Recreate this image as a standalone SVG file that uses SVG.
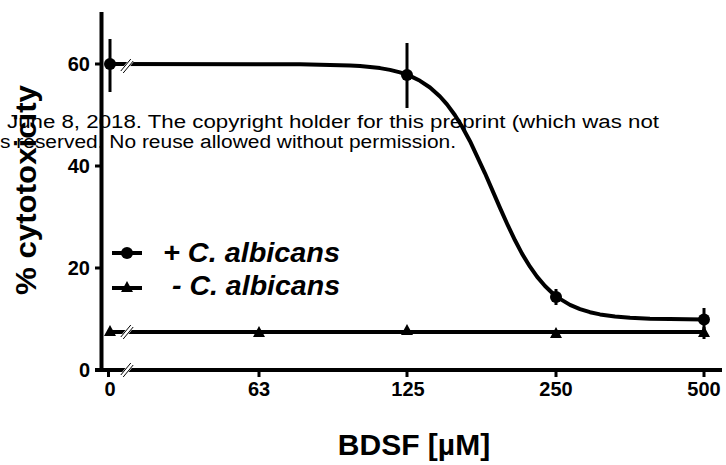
<svg xmlns="http://www.w3.org/2000/svg" width="726" height="465" viewBox="0 0 726 465">
<style>
  .wm { font-family: "Liberation Sans", Arial, sans-serif; font-size: 18px; fill: #000; }
  .tk { font-family: "Liberation Sans", Arial, sans-serif; font-size: 20px; font-weight: bold; fill: #000; }
  .ttl { font-family: "Liberation Sans", Arial, sans-serif; font-size: 30px; font-weight: bold; fill: #000; }
  .leg { font-family: "Liberation Sans", Arial, sans-serif; font-size: 27px; font-weight: bold; font-style: italic; fill: #000; }
  .ax { stroke: #000; stroke-width: 4; fill: none; }
  .tick { stroke: #000; stroke-width: 3; }
  .dl { stroke: #000; stroke-width: 4; fill: none; stroke-linejoin: round; }
  .err { stroke: #000; stroke-width: 3; }
</style>
<defs>
  <g id="brk">
    <line x1="-5" y1="6" x2="5" y2="-6" stroke="#fff" stroke-width="5"/>
    <line x1="-6.2" y1="5" x2="3.8" y2="-7" stroke="#000" stroke-width="1"/>
    <line x1="-3.8" y1="7" x2="6.2" y2="-5" stroke="#000" stroke-width="1"/>
  </g>
  <circle id="dot" r="6" fill="#000"/>
  <path id="tri" d="M0,-6 L6,5 L-6,5 Z" fill="#000"/>
</defs>
<rect width="726" height="465" fill="#fff"/>

<g id="watermark">
  <text class="wm" x="7" y="128" textLength="652" lengthAdjust="spacingAndGlyphs">June 8, 2018. The copyright holder for this preprint (which was not</text>
  <text class="wm" x="0" y="148" textLength="456" lengthAdjust="spacingAndGlyphs">s reserved. No reuse allowed without permission.</text>
</g>

<g id="axes">
  <line class="ax" x1="101.5" y1="12" x2="101.5" y2="372"/>
  <line class="ax" x1="95" y1="370" x2="722" y2="370"/>
  <line class="tick" x1="95" y1="64" x2="101" y2="64"/>
  <line class="tick" x1="95" y1="166" x2="101" y2="166"/>
  <line class="tick" x1="95" y1="268" x2="101" y2="268"/>
  <line class="tick" x1="108.5" y1="370" x2="108.5" y2="377"/>
  <line class="tick" x1="259" y1="370" x2="259" y2="377"/>
  <line class="tick" x1="407" y1="370" x2="407" y2="377"/>
  <line class="tick" x1="556" y1="370" x2="556" y2="377"/>
  <line class="tick" x1="704" y1="370" x2="704" y2="377"/>
  <g class="tk" text-anchor="end">
    <text x="90" y="71">60</text>
    <text x="90" y="173">40</text>
    <text x="90" y="275">20</text>
    <text x="90" y="377">0</text>
  </g>
  <g class="tk" text-anchor="middle">
    <text x="110" y="396">0</text>
    <text x="259" y="396">63</text>
    <text x="408" y="396">125</text>
    <text x="556" y="396">250</text>
    <text x="704" y="396">500</text>
  </g>
  <text class="ttl" x="414" y="455" text-anchor="middle">BDSF [µM]</text>
  <text class="ttl" transform="translate(36,190) rotate(-90)" text-anchor="middle" font-size="29" textLength="210" lengthAdjust="spacingAndGlyphs">% cytotoxicity</text>
</g>

<g id="series-minus">
  <line class="dl" x1="110" y1="332" x2="704" y2="332"/>
  <line class="err" x1="704" y1="327" x2="704" y2="339"/>
  <use href="#tri" x="110" y="331"/>
  <use href="#tri" x="259" y="332"/>
  <use href="#tri" x="407" y="330"/>
  <use href="#tri" x="556" y="333"/>
  <use href="#tri" x="704" y="332"/>
</g>

<g id="series-plus">
  <path class="dl" d="M110,64 L300,64.2 L350,65.4 L360,66 L380,68.1 L390,69.9 L400,72.4 L410,75.9 L420,80.8 L430,87.5 L440,96.5 L447,104.4 L455,115.3 L462,126.5 L470,141.2 L485,173.3 L500,207.9 L508,225.7 L515,240.3 L522,253.6 L530,266.7 L537,276.6 L545,286 L552,292.7 L560,298.9 L570,304.9 L580,309.1 L590,312.2 L600,314.4 L615,316.5 L630,317.8 L650,318.7 L670,319.1 L704,319.4"/>
  <line class="err" x1="110" y1="39" x2="110" y2="92"/>
  <line class="err" x1="407" y1="43" x2="407" y2="108"/>
  <line class="err" x1="556" y1="289" x2="556" y2="305"/>
  <line class="err" x1="704" y1="308" x2="704" y2="331"/>
  <use href="#dot" x="110" y="64"/>
  <use href="#dot" x="407" y="75"/>
  <use href="#dot" x="556" y="297"/>
  <use href="#dot" x="704" y="319.5"/>
</g>

<g id="breaks">
  <use href="#brk" x="127" y="66"/>
  <use href="#brk" x="127" y="332"/>
  <use href="#brk" x="127" y="370"/>
</g>

<g id="legend">
  <line class="dl" x1="112" y1="253" x2="142" y2="253"/>
  <use href="#dot" x="127" y="253"/>
  <text class="leg" x="163" y="262" textLength="177" lengthAdjust="spacingAndGlyphs">+ C. albicans</text>
  <line class="dl" x1="112" y1="288" x2="142" y2="288"/>
  <use href="#tri" x="127" y="287"/>
  <text class="leg" x="172" y="295" textLength="168" lengthAdjust="spacingAndGlyphs">- C. albicans</text>
</g>
</svg>
